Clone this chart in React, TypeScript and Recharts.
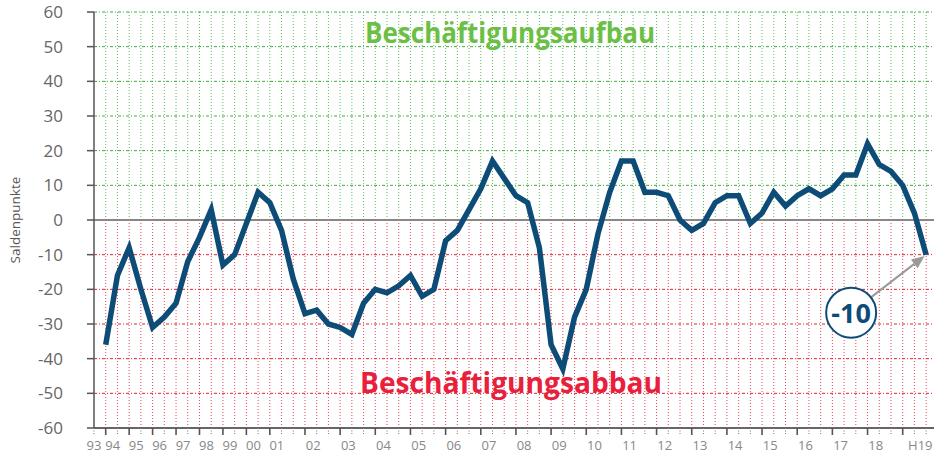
import React from "react";
import { LineChart, Line, XAxis, YAxis, ReferenceLine, ReferenceDot } from "recharts";

// Survey values (Saldenpunkte), one per survey point, index 1..71
const values: number[] = [
  -36, -16, -8, -20, -31, -28, -24, -12, -5, 3,
  -13, -10, -1, 8, 5, -3, -17, -27, -26, -30,
  -31, -33, -24, -20, -21, -19, -16, -22, -20, -6,
  -3, 3, 9, 17, 12, 7, 5, -8, -36, -43,
  -28, -20, -4, 8, 17, 17, 8, 8, 7, 0,
  -3, -1, 5, 7, 7, -1, 2, 8, 4, 7,
  9, 7, 9, 13, 13, 22, 16, 14, 10, 2,
  -10,
];

const tickLabels: string[] = [
  "93", "94", "95", "96", "97", "98", "99", "00", "01",
  "02", "03", "04", "05", "06", "07", "08", "09", "10",
  "11", "12", "13", "14", "15", "16", "17", "18", "H19",
];
const tickLabelPositions: number[] = [
  0, 1.6, 3.6, 5.6, 7.6, 9.6, 11.6, 13.6, 15.6,
  18.7, 21.7, 24.7, 27.7, 30.7, 33.7, 36.7, 39.7, 42.7,
  45.7, 48.7, 51.7, 54.7, 57.7, 60.7, 63.7, 66.7, 70.5,
];
const yearStarts: number[] = [
  1, 3, 5, 7, 9, 11, 13, 15, 18, 21, 24, 27, 30, 33, 36, 39, 42, 45, 48, 51, 54, 57, 60, 63, 66, 69,
];
const yTicks: number[] = [-60, -50, -40, -30, -20, -10, 0, 10, 20, 30, 40, 50, 60];

const data = values.map((v, i) => ({ k: i + 1, v }));
const gridKs = data.map((d) => d.k);
const markKs = [0, ...gridKs];
const allTicks = Array.from(new Set([...markKs, ...tickLabelPositions])).sort((a, b) => a - b);

const BLUE = "#0d4c77";
const GREEN_V = "#5cbd5c";
const GREEN_H = "#3aaa3a";
const RED_V = "#e94555";
const RED_H = "#e0202f";
const FONT = "'Open Sans', 'Noto Sans', sans-serif";

const XTick = (props: any) => {
  const { x, y, payload } = props;
  const v: number = payload.value;
  const li = tickLabelPositions.indexOf(v);
  const isMark = Number.isInteger(v) && markKs.includes(v);
  const solid = yearStarts.includes(v);
  return (
    <g>
      {isMark && (
        <line
          x1={x}
          x2={x}
          y1={y}
          y2={y + 7}
          stroke={solid ? "#555" : "#777"}
          strokeWidth={solid ? 1.6 : 1}
          strokeDasharray={solid ? undefined : "1 1.5"}
        />
      )}
      {li >= 0 && (
        <text x={x} y={y + 22} textAnchor="middle" fontSize={13} fill="#888" fontFamily={FONT}>
          {tickLabels[li]}
        </text>
      )}
    </g>
  );
};

const Callout = (props: any) => {
  const { cx, cy } = props;
  if (cx == null || cy == null) return null;
  const ccx = cx - 75;
  const ccy = cy + 58;
  const r = 25;
  const dx = cx - ccx;
  const dy = cy - ccy;
  const len = Math.sqrt(dx * dx + dy * dy);
  const ux = dx / len;
  const uy = dy / len;
  const sx = ccx + ux * r;
  const sy = ccy + uy * r;
  const tx = cx - ux * 2;
  const ty = cy - uy * 2;
  const hl = 13;
  const hw = 5.5;
  const bx = tx - ux * hl;
  const by = ty - uy * hl;
  const px = -uy;
  const py = ux;
  return (
    <g>
      <line x1={sx} y1={sy} x2={bx} y2={by} stroke="#9a9a9a" strokeWidth={2} />
      <polygon
        points={`${tx},${ty} ${bx + px * hw},${by + py * hw} ${bx - px * hw},${by - py * hw}`}
        fill="#9a9a9a"
      />
      <circle cx={ccx} cy={ccy} r={r} fill="#fff" stroke={BLUE} strokeWidth={2} />
      <text
        x={ccx}
        y={ccy + 10}
        textAnchor="middle"
        fontSize={27}
        fontWeight={700}
        fill={BLUE}
        fontFamily={FONT}
      >
        {values[values.length - 1]}
      </text>
    </g>
  );
};

export default function App() {
  return (
    <div style={{ position: "fixed", left: 0, top: 0, width: 934, height: 454, background: "#fff" }}>
      <LineChart width={934} height={454} data={data} margin={{ top: 12, right: 0, bottom: 0, left: 0 }}>
        <XAxis
          type="number"
          dataKey="k"
          domain={[0, 71.67]}
          ticks={allTicks}
          interval={0}
          tick={<XTick />}
          tickLine={false}
          tickSize={0}
          tickMargin={0}
          axisLine={{ stroke: "#666", strokeWidth: 2 }}
          height={26}
          allowDataOverflow
        />
        <YAxis
          type="number"
          domain={[-60, 60]}
          ticks={yTicks}
          interval={0}
          width={94}
          tickSize={7}
          tickMargin={24}
          tick={{ fontSize: 17, fill: "#666", fontFamily: FONT }}
          tickLine={{ stroke: "#555", strokeWidth: 1.5 }}
          axisLine={{ stroke: "#555", strokeWidth: 1.5 }}
        />
        {gridKs.map((k) => (
          <ReferenceLine
            key={`vg${k}`}
            segment={[{ x: k, y: 0 }, { x: k, y: 60 }]}
            stroke={GREEN_V}
            strokeWidth={1}
            strokeDasharray="1 2"
          />
        ))}
        {gridKs.map((k) => (
          <ReferenceLine
            key={`vr${k}`}
            segment={[{ x: k, y: -60 }, { x: k, y: 0 }]}
            stroke={RED_V}
            strokeWidth={1}
            strokeDasharray="1 2"
          />
        ))}
        {yTicks
          .filter((t) => t !== 0 && t !== -60)
          .map((t) => (
            <ReferenceLine
              key={`h${t}`}
              y={t}
              stroke={t > 0 ? GREEN_H : RED_H}
              strokeWidth={1}
              strokeDasharray="3 2 1 2"
            />
          ))}
        <ReferenceLine y={0} stroke="#888" strokeWidth={2} />
        <Line
          type="linear"
          dataKey="v"
          stroke={BLUE}
          strokeWidth={5.5}
          dot={false}
          isAnimationActive={false}
          strokeLinejoin="miter"
        />
        <ReferenceDot x={71} y={-10} r={0} shape={<Callout />} />
      </LineChart>
      <svg
        width={934}
        height={454}
        style={{ position: "absolute", left: 0, top: 0, pointerEvents: "none" }}
      >
        <text
          x={510}
          y={43}
          textAnchor="middle"
          fontSize={28}
          fontWeight={700}
          fill="#6cbf45"
          fontFamily={FONT}
          textLength={290}
          lengthAdjust="spacingAndGlyphs"
        >
          Beschäftigungsaufbau
        </text>
        <text
          x={511}
          y={393}
          textAnchor="middle"
          fontSize={28}
          fontWeight={700}
          fill="#e8203c"
          fontFamily={FONT}
          textLength={302}
          lengthAdjust="spacingAndGlyphs"
        >
          Beschäftigungsabbau
        </text>
        <text
          x={20}
          y={220}
          textAnchor="middle"
          fontSize={13.5}
          fill="#555"
          fontFamily={FONT}
          transform="rotate(-90 20 220)"
        >
          Saldenpunkte
        </text>
      </svg>
    </div>
  );
}
